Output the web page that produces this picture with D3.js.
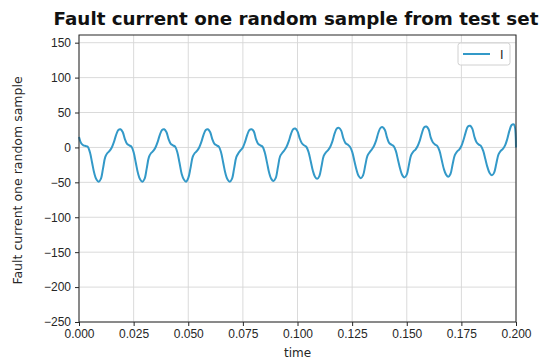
<!DOCTYPE html>
<html>
<head>
<meta charset="utf-8">
<script src="https://cdn.jsdelivr.net/npm/d3@7"></script>
<style>
  body { margin: 0; background: #fff; }
  svg { display: block; font-family: "DejaVu Sans", sans-serif; }
  .grid line { stroke: #d6d6d6; stroke-width: 0.9; }
  .axis text { font-size: 12px; fill: #262626; }
  .axis path, .axis line { stroke: #262626; }
</style>
</head>
<body>
<div id="chart"></div>
<script>
// sampled current, one value per millisecond from t = 0 to 0.2 s
const sampleStep = 0.001;
const current = [
  15, 6, 3, 2, 1,
  -7, -22, -37, -46, -49, -45, -30, -14, -8, -5, 0, 8, 18, 25, 26, 22, 12, 5, 3, 1,
  -7, -22, -37, -46, -49, -45, -30, -14, -8, -5, 0, 8, 18, 25, 26, 22, 12, 5, 3, 1,
  -7, -22, -38, -46, -49, -44, -30, -14, -8, -5, 0, 8, 18, 25, 26, 22, 12, 5, 3, 1,
  -7, -22, -37, -46, -49, -45, -30, -14, -8, -4, 0, 8, 18, 25, 26, 23, 12, 5, 3, 1,
  -7, -21, -36, -45, -48, -44, -29, -13, -8, -4, 1, 9, 19, 26, 27, 23, 13, 6, 3, 1,
  -6, -19, -33, -42, -45, -41, -27, -12, -7, -4, 1, 9, 20, 27, 28, 24, 13, 6, 4, 1,
  -6, -19, -32, -41, -44, -40, -26, -12, -7, -3, 2, 10, 21, 28, 29, 25, 14, 6, 4, 2,
  -5, -18, -31, -40, -43, -39, -25, -11, -6, -3, 2, 10, 21, 29, 30, 26, 14, 7, 4, 2,
  -5, -18, -31, -39, -42, -38, -24, -11, -6, -3, 2, 11, 22, 30, 31, 27, 15, 7, 4, 2,
  -5, -17, -29, -37, -40, -36, -23, -10, -5, -2, 3, 12, 24, 32, 33,
  0
];
const xTicks = [0, 0.025, 0.05, 0.075, 0.1, 0.125, 0.15, 0.175, 0.2];
const yTicks = [150, 100, 50, 0, -50, -100, -150, -200, -250];
const seriesName = 'I';

const width = 541, height = 360;
const margin = { top: 35, right: 25, bottom: 38, left: 79 };
const lineColor = '#3399c8';

const data = current.map((v, i) => ({ t: i * sampleStep, v }));

const svg = d3.select('#chart').append('svg')
  .attr('width', width)
  .attr('height', height);

const x = d3.scaleLinear().domain([0, 0.2]).range([margin.left, width - margin.right]);
const y = d3.scaleLinear().domain([-250, 161]).range([height - margin.bottom, margin.top]);

// grid
svg.append('g').attr('class', 'grid')
  .selectAll('line.v').data(xTicks).join('line')
  .attr('x1', d => x(d)).attr('x2', d => x(d))
  .attr('y1', margin.top).attr('y2', height - margin.bottom);
svg.append('g').attr('class', 'grid')
  .selectAll('line.h').data(yTicks).join('line')
  .attr('x1', margin.left).attr('x2', width - margin.right)
  .attr('y1', d => y(d)).attr('y2', d => y(d));

// line
const line = d3.line()
  .x(d => x(d.t))
  .y(d => y(d.v))
  .curve(d3.curveCatmullRom.alpha(0.5));

svg.append('path')
  .datum(data)
  .attr('fill', 'none')
  .attr('stroke', lineColor)
  .attr('stroke-width', 2)
  .attr('d', line);

// frame
svg.append('rect')
  .attr('x', margin.left).attr('y', margin.top)
  .attr('width', width - margin.left - margin.right)
  .attr('height', height - margin.top - margin.bottom)
  .attr('fill', 'none').attr('stroke', '#262626').attr('stroke-width', 1);

// axes
const fmtMinus = s => s.replace('-', '\u2212');
svg.append('g').attr('class', 'axis')
  .attr('transform', `translate(0,${height - margin.bottom})`)
  .call(d3.axisBottom(x).tickValues(xTicks).tickFormat(d3.format('.3f')).tickSizeOuter(0).tickSize(4).tickPadding(3))
  .call(g => g.select('.domain').remove());
svg.append('g').attr('class', 'axis')
  .attr('transform', `translate(${margin.left},0)`)
  .call(d3.axisLeft(y).tickValues(yTicks).tickFormat(d => fmtMinus(String(d))).tickSizeOuter(0).tickSize(4).tickPadding(4))
  .call(g => g.select('.domain').remove());

// labels
svg.append('text')
  .attr('x', 296)
  .attr('y', 25)
  .attr('text-anchor', 'middle')
  .attr('font-weight', 'bold')
  .attr('font-size', 18.3)
  .attr('fill', '#111')
  .text('Fault current one random sample from test set');

svg.append('text')
  .attr('x', (margin.left + width - margin.right) / 2)
  .attr('y', 357)
  .attr('text-anchor', 'middle')
  .attr('font-size', 12)
  .attr('fill', '#262626')
  .text('time');

svg.append('text')
  .attr('transform', `translate(22,${(margin.top + height - margin.bottom) / 2 + 2}) rotate(-90)`)
  .attr('text-anchor', 'middle')
  .attr('font-size', 12.5)
  .attr('fill', '#262626')
  .text('Fault current one random sample');

// legend
const legend = svg.append('g').attr('transform', 'translate(458,43)');
legend.append('rect')
  .attr('width', 52).attr('height', 22).attr('rx', 2.5)
  .attr('fill', '#fff').attr('fill-opacity', 0.85)
  .attr('stroke', '#d0d0d0');
legend.append('line')
  .attr('x1', 5).attr('x2', 32).attr('y1', 11).attr('y2', 11)
  .attr('stroke', lineColor).attr('stroke-width', 2);
legend.append('text')
  .attr('x', 42).attr('y', 15.5)
  .attr('font-size', 12)
  .attr('fill', '#262626')
  .text(seriesName);
</script>
</body>
</html>
